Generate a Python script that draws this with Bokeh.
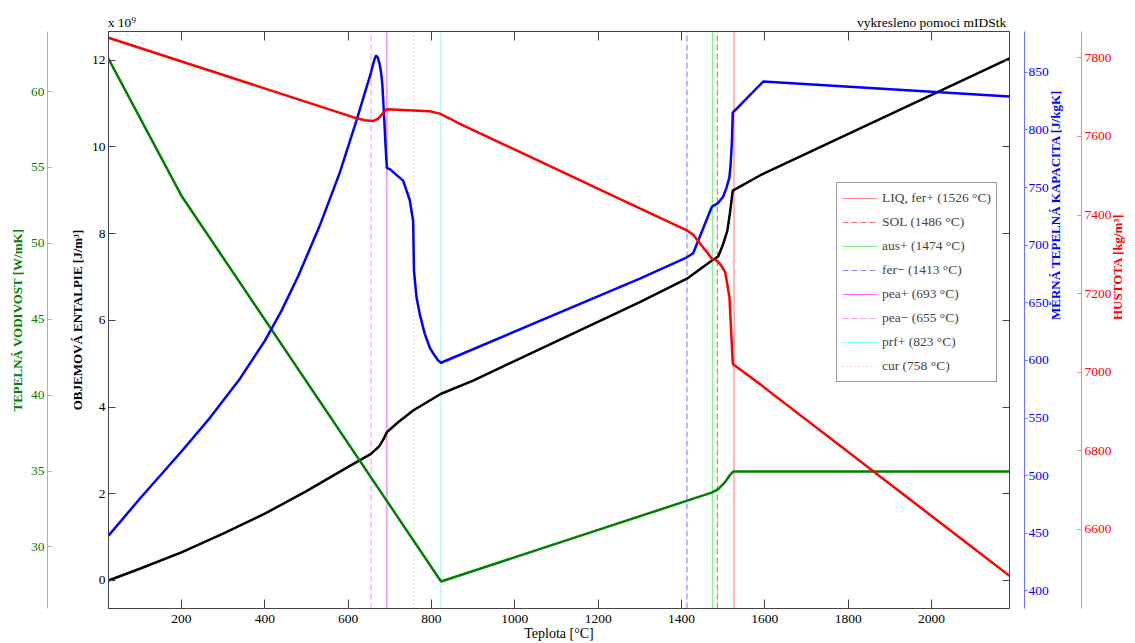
import math
import numpy as np
from bokeh.plotting import figure
from bokeh.models import Range1d, LinearAxis, FixedTicker, Legend, LegendItem
from bokeh.embed import file_html
from bokeh.resources import INLINE

# ---------------- data ----------------
T_LIMITS = (25, 2187)

# thermal conductivity [W/mK]
T_k = [25, 200, 823, 1474, 1488, 1504, 1515, 1524, 2187]
k_vals = [62.16, 53.14, 27.72, 33.59, 33.81, 34.25, 34.69, 34.97, 34.97]

# volumetric enthalpy [x 1e9 J/m3]
T_h = [25, 100, 200, 300, 400, 500, 600, 655, 675, 685, 693, 720, 756, 822, 900,
       1300, 1413, 1473, 1488, 1500, 1510, 1516, 1521, 1523, 1588, 2187]
h_vals = [0.0, 0.27, 0.65, 1.08, 1.54, 2.06, 2.62, 2.92, 3.10, 3.26, 3.42, 3.65, 3.92,
          4.30, 4.61, 6.42, 6.96, 7.38, 7.47, 7.76, 8.07, 8.46, 8.84, 8.99, 9.34, 12.04]

# specific heat capacity [J/kgK]
T_cp = [25, 100, 200, 268, 340, 400, 440, 480, 532, 580, 620, 645, 655, 663, 667, 671, 675,
        679, 682, 686, 690, 693, 700, 732, 748, 756, 758, 764, 772, 784, 796, 808, 816, 823,
        1300, 1413, 1428, 1473, 1486, 1500, 1508, 1515, 1518, 1521, 1523, 1596, 2187]
cp_vals = [448, 480, 521, 550, 584, 617, 643, 673, 717, 763, 808, 838, 850, 861, 864.6, 863,
           858, 850, 840, 814, 785, 767, 766, 756, 739, 721, 678, 655, 640, 623, 611, 604, 600,
           598, 671, 689.5, 693, 733.5, 736, 742, 750, 759, 771, 791, 815, 842, 829]

# density [kg/m3]
T_rho = [25, 612, 640, 659, 672, 684, 692, 796, 820, 845, 868, 1300, 1413, 1428, 1473, 1485,
         1495, 1505, 1515, 1521, 1523, 1588, 2187]
rho_vals = [7851, 7649, 7641, 7639, 7645, 7660, 7669, 7664, 7658, 7645, 7632, 7417, 7361, 7350,
            7289, 7284, 7272, 7254, 7191, 7064, 7021, 6970, 6482]

# phase transitions
tr_names = ["LIQ, fer+", "SOL", "aus+", "fer\u2212", "pea+", "pea\u2212", "prf+", "cur"]
tr_temps = [1526, 1486, 1474, 1413, 693, 655, 823, 758]

# ticks
x_ticks = [200, 400, 600, 800, 1000, 1200, 1400, 1600, 1800, 2000]
h_ticks = [0, 2, 4, 6, 8, 10, 12]
k_ticks = [30, 35, 40, 45, 50, 55, 60]
cp_ticks = [400, 450, 500, 550, 600, 650, 700, 750, 800, 850]
rho_ticks = [6600, 6800, 7000, 7200, 7400, 7600, 7800]

H_LIMITS = (-0.646, 12.66)
K_LIMITS = (25.94, 63.96)
CP_LIMITS = (384.8, 885.4)
RHO_LIMITS = (6399, 7867)

# texts above the frame (enthalpy multiplier at the left, credit at the right)
top_notes = {57: "x 10\u2079", 2000: "vykresleno pomoci mIDStk"}

# ---------------- styles ----------------
FONT = "Liberation Serif"
TICK_FS = "13.5px"
TITLE_FS = "13px"
tr_colors = ["#ff8a8a", "#ff6f6f", "#86f086", "#8c8cff", "#ff6cff", "#ffa0ff", "#86ffff", "#ffb4b4"]
tr_dashes = ["solid", "6 3", "solid", "6 3", "solid", "6 3", "solid", "1 3"]

p = figure(width=1135, height=643, x_range=Range1d(*T_LIMITS), y_range=Range1d(*H_LIMITS),
           output_backend="svg", toolbar_location=None, title=None,
           min_border_left=108, min_border_right=126, min_border_top=31, min_border_bottom=35)
p.extra_y_ranges = {"k": Range1d(*K_LIMITS), "cp": Range1d(*CP_LIMITS), "rho": Range1d(*RHO_LIMITS)}
p.xgrid.visible = False
p.ygrid.visible = False
p.outline_line_color = "#444444"
p.outline_line_width = 1

def style_axis(ax, color, line_color, tick_in, tick_out, label_standoff):
    ax.axis_line_color = line_color
    ax.major_tick_line_color = line_color
    ax.major_tick_in = tick_in
    ax.major_tick_out = tick_out
    ax.minor_tick_line_color = None
    ax.minor_tick_in = 0
    ax.minor_tick_out = 0
    ax.major_label_text_font = FONT
    ax.major_label_text_font_size = TICK_FS
    ax.major_label_text_color = color
    ax.major_label_standoff = label_standoff
    ax.axis_label_text_font = FONT
    ax.axis_label_text_font_size = TITLE_FS
    ax.axis_label_text_font_style = "bold"
    ax.axis_label_text_color = color

# bottom x axis
xa = p.xaxis[0]
xa.ticker = FixedTicker(ticks=x_ticks)
style_axis(xa, "#000000", "#444444", 9, 0, 6)
xa.axis_label = "Teplota [\u00b0C]"
xa.axis_label_text_font_style = "normal"
xa.axis_label_text_font_size = "14px"
xa.axis_label_standoff = 0

# top mirrored ticks (no labels)
xt = LinearAxis(ticker=FixedTicker(ticks=x_ticks),
                major_label_overrides={t: "" for t in x_ticks})
style_axis(xt, "#000000", "#444444", 9, 0, 0)
xt.major_label_text_font_size = "0px"
xt.major_label_text_color = None

# top text row
xn = LinearAxis(ticker=FixedTicker(ticks=list(top_notes.keys())),
                major_label_overrides=top_notes)
style_axis(xn, "#000000", None, 0, 0, 2)
xn.major_tick_line_color = None
p.above = [xt, xn]

# left black axis (enthalpy)
ya = p.yaxis[0]
ya.ticker = FixedTicker(ticks=h_ticks)
style_axis(ya, "#000000", "#444444", 7, 0, 3)
ya.axis_label = "OBJEMOVÁ ENTALPIE [J/m\u00b3]"
ya.axis_label_standoff = 4

# spacer between black and green axes
sp_left = LinearAxis(y_range_name="k", ticker=FixedTicker(ticks=[]), axis_label=" ",
                     axis_label_text_font_size="1px", axis_label_standoff=15,
                     axis_line_color=None, major_tick_line_color=None, minor_tick_line_color=None,
                     major_tick_out=0, minor_tick_out=0, major_label_standoff=0)
p.add_layout(sp_left, "left")

# green axis (thermal conductivity)
ka = LinearAxis(y_range_name="k", ticker=FixedTicker(ticks=k_ticks))
style_axis(ka, "#008000", "#8cc88c", 5, 0, 3)
ka.axis_label = "TEPELNÁ VODIVOST [W/mK]"
ka.axis_label_standoff = 3
p.add_layout(ka, "left")

# right mirrored black ticks
yr = LinearAxis(ticker=FixedTicker(ticks=h_ticks),
                major_label_overrides={t: "" for t in h_ticks},
                axis_label=" ", axis_label_standoff=11)
style_axis(yr, "#000000", "#444444", 7, 0, 0)
yr.axis_label_text_font_size = "1px"
p.add_layout(yr, "right")

# blue axis (heat capacity)
ca = LinearAxis(y_range_name="cp", ticker=FixedTicker(ticks=cp_ticks))
style_axis(ca, "#0000ff", "#7070ff", 0, 3, 1)
ca.axis_label = "MĚRNÁ TEPELNÁ KAPACITA [J/kgK]"
ca.axis_label_standoff = 4
ca.axis_label_orientation = math.pi / 2
p.add_layout(ca, "right")

# spacer
sp_right = LinearAxis(y_range_name="cp", ticker=FixedTicker(ticks=[]), axis_label=" ",
                      axis_label_text_font_size="1px", axis_label_standoff=4,
                      axis_line_color=None, major_tick_line_color=None, minor_tick_line_color=None,
                      major_tick_out=0, minor_tick_out=0, major_label_standoff=0)
p.add_layout(sp_right, "right")

# red axis (density)
ra = LinearAxis(y_range_name="rho", ticker=FixedTicker(ticks=rho_ticks))
style_axis(ra, "#ff0000", "#ff8080", 4, 0, 3)
ra.axis_label = "HUSTOTA [kg/m\u00b3]"
ra.axis_label_standoff = 3
ra.axis_label_orientation = math.pi / 2
p.add_layout(ra, "right")

# vertical transition lines
items = []
y_lo, y_hi = p.y_range.start, p.y_range.end
for name, t, c, d in zip(tr_names, tr_temps, tr_colors, tr_dashes):
    r = p.line(x=[t, t], y=[y_lo, y_hi], line_color=c, line_width=1.2, line_dash=d)
    items.append(LegendItem(label=f"{name} ({t} \u00b0C)", renderers=[r]))

# curves
p.line(T_h, h_vals, line_color="#000000", line_width=2.5)
p.line(T_k, k_vals, line_color="#008000", line_width=2.5, y_range_name="k")
p.line(T_cp, cp_vals, line_color="#0000ff", line_width=2.5, y_range_name="cp")
p.line(T_rho, rho_vals, line_color="#ff0000", line_width=2.5, y_range_name="rho")

legend = Legend(items=items, location=(728, 226), border_line_color="#333333", border_line_width=1,
                label_text_font=FONT, label_text_font_size="13.5px", glyph_width=35, glyph_height=20,
                label_height=20, label_standoff=5, padding=5, spacing=4, margin=0,
                background_fill_alpha=1.0)
p.add_layout(legend, "center")

open("out.html", "w").write(file_html(p, INLINE))
